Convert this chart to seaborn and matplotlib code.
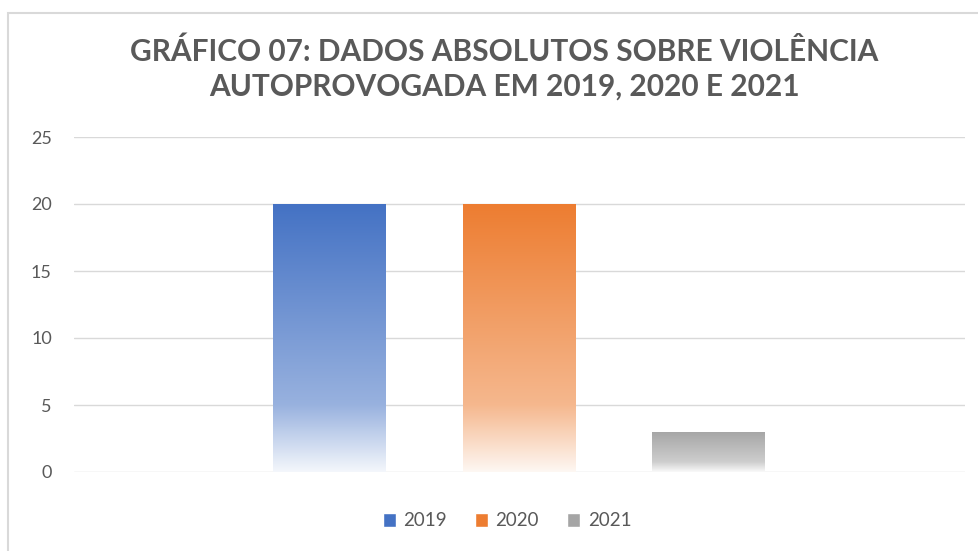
import numpy as np
import pandas as pd
import matplotlib.pyplot as plt
import seaborn as sns
from matplotlib.colors import LinearSegmentedColormap, to_rgb
from matplotlib.patches import Patch, Rectangle

anos = ['2019', '2020', '2021']
casos = [20, 20, 3]
cores = ['#4472C4', '#ED7D31', '#A5A5A5']
titulo = 'GRÁFICO 07: DADOS ABSOLUTOS SOBRE VIOLÊNCIA\nAUTOPROVOGADA EM 2019, 2020 E 2021'

df = pd.DataFrame({'ano': anos, 'casos': casos})

sns.set_style('white')
plt.rcParams['font.family'] = ['Lato', 'DejaVu Sans']

cinza_txt = '#595959'


def degrade(cor):
    # cor cheia no topo, clareando ate quase branco na base
    c = np.array(to_rgb(cor))
    claro = c + (1 - c) * 0.45
    quase = c + (1 - c) * 0.94
    return LinearSegmentedColormap.from_list('g', [(0, quase), (0.25, claro), (1, c)])


fig = plt.figure(figsize=(9.79, 5.51), dpi=100)
ax = fig.add_axes([74 / 979, 1 - 472 / 551, (965 - 74) / 979, (472 - 137) / 551])

sns.barplot(data=df, x='ano', y='casos', hue='ano', palette=cores,
            width=0.59, legend=False, ax=ax, zorder=2)

grad = np.linspace(0, 1, 256).reshape(-1, 1)
for patch, cor in zip(ax.patches, cores):
    x0, y0 = patch.get_x(), patch.get_y()
    x1, y1 = x0 + patch.get_width(), y0 + patch.get_height()
    patch.set_facecolor('none')
    patch.set_edgecolor('none')
    im = ax.imshow(grad, cmap=degrade(cor), extent=[x0, x1, y0, y1],
                   origin='lower', aspect='auto', zorder=2)
    im.set_clip_path(patch)

ax.set_xlim(-1.34, 3.35)
ax.set_ylim(0, 25)
ax.set_yticks([0, 5, 10, 15, 20, 25])
ax.set_xticks([])
ax.set_xlabel('')
ax.set_ylabel('')
ax.yaxis.grid(True, color='#D9D9D9', lw=1)
ax.set_axisbelow(True)
sns.despine(ax=ax, left=True, bottom=True)
ax.tick_params(axis='y', length=0, pad=16, labelsize=13, labelcolor=cinza_txt)

fig.text(504 / 979, 1 - 69 / 551, titulo, ha='center', va='center',
         fontsize=21.5, fontweight='bold', color=cinza_txt, linespacing=1.27)

handles = [Patch(facecolor=c) for c in cores]
fig.legend(handles, anos, loc='center', bbox_to_anchor=(507 / 979, 1 - 521 / 551),
           ncol=3, frameon=False, handlelength=0.7, handleheight=0.7,
           handletextpad=0.4, columnspacing=1.5, fontsize=13.5, labelcolor=cinza_txt)

fig.add_artist(Rectangle((8 / 979, -0.1), 1.2, (1 - 13 / 551) + 0.1,
                         transform=fig.transFigure, fill=False,
                         edgecolor='#D9D9D9', lw=1.5))

fig.savefig('out.png', dpi=100)
